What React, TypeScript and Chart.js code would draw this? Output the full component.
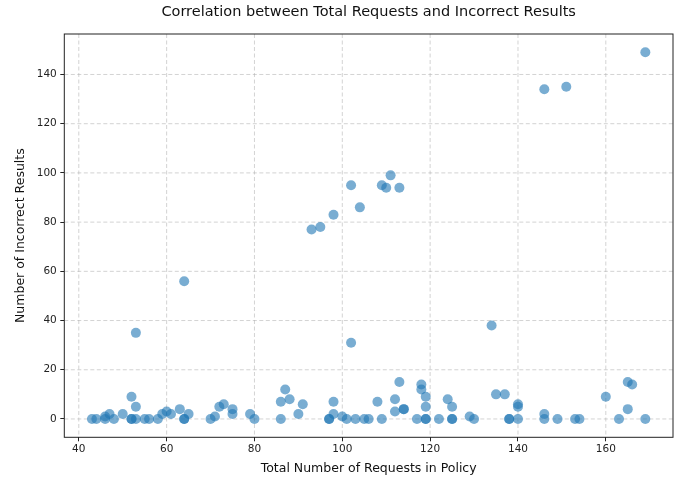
import React, { useEffect, useRef } from "react";
import { Chart, registerables } from "chart.js";

Chart.register(...registerables);

const titleText = "Correlation between Total Requests and Incorrect Results";
const xLabel = "Total Number of Requests in Policy";
const yLabel = "Number of Incorrect Results";

const totalRequests = [
  43, 44, 46, 46, 47, 48, 50, 52, 52, 52, 53, 53, 53, 55, 56, 58, 59, 60, 61, 63,
  64, 64, 64, 65, 70, 71, 72, 73, 75, 75, 79, 80, 86, 86, 87, 88, 90, 91, 93, 95,
  97, 97, 98, 98, 98, 100, 101, 102, 102, 103, 104, 105, 106, 108, 109, 109, 110, 111, 112, 112,
  113, 113, 114, 114, 117, 118, 118, 119, 119, 119, 119, 122, 124, 125, 125, 125, 129, 130, 134, 135,
  137, 138, 138, 140, 140, 140, 146, 146, 146, 149, 151, 153, 154, 160, 163, 165, 165, 166, 169, 169,
];
const incorrectResults = [
  0, 0, 0, 1, 2, 0, 2, 9, 0, 0, 5, 0, 35, 0, 0, 0, 2, 3, 2, 4,
  0, 0, 56, 2, 0, 1, 5, 6, 4, 2, 2, 0, 0, 7, 12, 8, 2, 6, 77, 78,
  0, 0, 7, 2, 83, 1, 0, 95, 31, 0, 86, 0, 0, 7, 0, 95, 94, 99, 8, 3,
  15, 94, 4, 4, 0, 14, 12, 9, 5, 0, 0, 0, 8, 5, 0, 0, 1, 0, 38, 10,
  10, 0, 0, 6, 5, 0, 2, 0, 134, 0, 135, 0, 0, 9, 0, 4, 15, 14, 0, 149,
];

const xTicks = [40, 60, 80, 100, 120, 140, 160];
const yTicks = [0, 20, 40, 60, 80, 100, 120, 140];

const FONT = "'DejaVu Sans', sans-serif";

const gridPlugin = {
  id: "dashGrid",
  beforeDatasetsDraw(chart: any) {
    const { ctx, chartArea, scales } = chart;
    ctx.save();
    ctx.strokeStyle = "rgba(176,176,176,0.7)";
    ctx.lineWidth = 0.8;
    ctx.setLineDash([4, 2.5]);
    xTicks.forEach((v) => {
      const px = scales.x.getPixelForValue(v);
      ctx.beginPath();
      ctx.moveTo(px, chartArea.top);
      ctx.lineTo(px, chartArea.bottom);
      ctx.stroke();
    });
    yTicks.forEach((v) => {
      const py = scales.y.getPixelForValue(v);
      ctx.beginPath();
      ctx.moveTo(chartArea.left, py);
      ctx.lineTo(chartArea.right, py);
      ctx.stroke();
    });
    ctx.restore();
  },
};

const framePlugin = {
  id: "frame",
  afterDatasetsDraw(chart: any) {
    const { ctx, chartArea } = chart;
    ctx.save();
    ctx.strokeStyle = "#222";
    ctx.lineWidth = 1;
    ctx.setLineDash([]);
    ctx.strokeRect(chartArea.left, chartArea.top, chartArea.right - chartArea.left, chartArea.bottom - chartArea.top);
    ctx.fillStyle = "#111";
    ctx.font = "14.5px " + FONT;
    ctx.textAlign = "center";
    ctx.textBaseline = "middle";
    ctx.fillText(titleText, (chartArea.left + chartArea.right) / 2, 12.5);
    ctx.restore();
  },
};

export default function App() {
  const ref = useRef<HTMLCanvasElement | null>(null);

  useEffect(() => {
    if (!ref.current) return;
    const xmin = Math.min(...totalRequests);
    const xmax = Math.max(...totalRequests);
    const ymin = Math.min(...incorrectResults);
    const ymax = Math.max(...incorrectResults);
    const xm = (xmax - xmin) * 0.05;
    const ym = (ymax - ymin) * 0.05;

    const points = totalRequests.map((x, i) => ({ x, y: incorrectResults[i] }));

    const gridCommon = {
      drawOnChartArea: false,
      drawTicks: true,
      color: "#222",
      tickColor: "#222",
      tickLength: 4,
      tickWidth: 1,
    };

    const chart = new Chart(ref.current, {
      type: "scatter",
      data: {
        datasets: [
          {
            data: points,
            backgroundColor: "rgba(31,119,180,0.6)",
            borderWidth: 0,
            pointRadius: 5,
            pointHoverRadius: 5,
          },
        ],
      },
      plugins: [gridPlugin, framePlugin],
      options: {
        responsive: false,
        animation: false,
        devicePixelRatio: 1,
        layout: { padding: { left: 0, right: 13, top: 34, bottom: 0 } },
        plugins: {
          legend: { display: false },
          tooltip: { enabled: false },
          title: { display: false },
        },
        scales: {
          x: {
            type: "linear",
            min: xmin - xm,
            max: xmax + xm,
            afterBuildTicks: (scale: any) => {
              scale.ticks = xTicks.map((v) => ({ value: v }));
            },
            afterFit: (scale: any) => {
              scale.height = 43.7;
            },
            ticks: {
              color: "#222",
              padding: 1.5,
              maxRotation: 0,
              font: { family: FONT, size: 10.5 },
              callback: (v: any) => String(v),
            },
            grid: gridCommon as any,
            border: { display: false },
            title: {
              display: true,
              text: xLabel,
              color: "#111",
              font: { family: FONT, size: 12.5 },
              padding: { top: 0, bottom: 4.5 },
            },
          },
          y: {
            type: "linear",
            min: ymin - ym,
            max: ymax + ym,
            afterBuildTicks: (scale: any) => {
              scale.ticks = yTicks.map((v) => ({ value: v }));
            },
            afterFit: (scale: any) => {
              scale.width = 64.3;
            },
            ticks: {
              color: "#222",
              padding: 3.5,
              font: { family: FONT, size: 10.5 },
              callback: (v: any) => String(v),
            },
            grid: gridCommon as any,
            border: { display: false },
            title: {
              display: true,
              text: yLabel,
              color: "#111",
              font: { family: FONT, size: 12.5 },
              padding: { top: 13.5, bottom: 0 },
            },
          },
        },
      },
    } as any);

    return () => chart.destroy();
  }, []);

  return (
    <div style={{ position: "fixed", left: 0, top: 0, width: 686, height: 481, background: "#fff" }}>
      <canvas ref={ref} width={686} height={481} style={{ width: 686, height: 481, display: "block" }} />
    </div>
  );
}
